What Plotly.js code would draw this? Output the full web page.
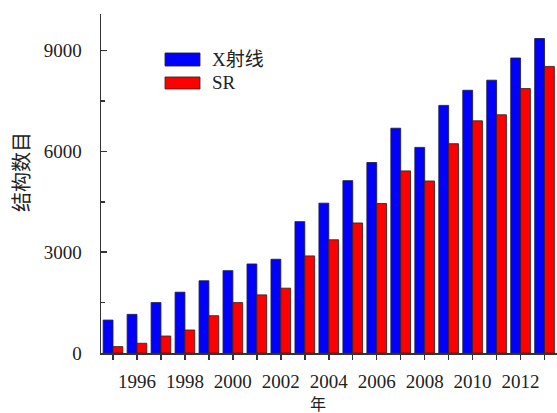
<!DOCTYPE html>
<html>
<head>
<meta charset="utf-8">
<script src="https://cdn.plot.ly/plotly-3.0.1.min.js"></script>
<style>
html,body{margin:0;padding:0;background:#fff;}
#chart{width:557px;height:413px;}
</style>
</head>
<body>
<div id="chart"></div>
<script>
var years = [1995,1996,1997,1998,1999,2000,2001,2002,2003,2004,2005,2006,2007,2008,2009,2010,2011,2012,2013];
var xray = [980,1150,1500,1810,2150,2450,2650,2790,3910,4460,5130,5670,6690,6120,7370,7820,8120,8780,9360];
var sr = [190,290,505,685,1110,1500,1730,1930,2890,3370,3870,4450,5420,5120,6230,6910,7090,7870,8530];
var seriesNames = ['X射线','SR'];
var seriesColors = ['#0000ff','#ff0000'];
var xTickVals = [1996,1998,2000,2002,2004,2006,2008,2010,2012];
var yTickVals = [0,3000,6000,9000];
var yTitle = '结构数目';
var xTitle = '年';

var fontFam = 'Liberation Serif, Noto Sans CJK SC, serif';
var textCol = '#222';

var traces = [
  {type:'bar', x:years, y:xray, name:seriesNames[0], marker:{color:seriesColors[0], line:{color:'rgba(30,30,60,0.85)', width:1}}, showlegend:false},
  {type:'bar', x:years, y:sr, name:seriesNames[1], marker:{color:seriesColors[1], line:{color:'rgba(60,30,30,0.85)', width:1}}, showlegend:false}
];

var layout = {
  width:557, height:413,
  margin:{l:101, r:0, t:14, b:60, pad:0},
  paper_bgcolor:'#fff', plot_bgcolor:'#fff',
  barmode:'group', bargap:0.18, bargroupgap:0,
  font:{family:fontFam, size:18, color:textCol},
  xaxis:{
    range:[1994.5, 2013.52],
    tickmode:'array', tickvals:xTickVals, ticktext:xTickVals.map(String),
    ticks:'outside', ticklen:5, tickwidth:1.5, tickcolor:'#333',
    minor:{tickmode:'array', tickvals:years, ticks:'outside', ticklen:5, tickwidth:1.5, tickcolor:'#333'},
    showline:true, linecolor:'#333', linewidth:1.5,
    showgrid:false, zeroline:false,
    ticklabelstandoff:6,
    tickfont:{family:fontFam, size:19, color:textCol}
  },
  yaxis:{
    range:[0, 10090],
    tickmode:'array', tickvals:yTickVals, ticktext:yTickVals.map(String),
    ticks:'inside', ticklen:6, tickwidth:1.5, tickcolor:'#333',
    minor:{tickmode:'array', tickvals:[1500,4500,7500], ticks:'inside', ticklen:4, tickwidth:1.5, tickcolor:'#333'},
    showline:true, linecolor:'#333', linewidth:1.5,
    showgrid:false, zeroline:false,
    ticklabelstandoff:14,
    tickfont:{family:fontFam, size:19, color:textCol}
  },
  shapes:[
    {type:'rect', xref:'paper', yref:'paper', x0:0.1404, x1:0.2171, y0:0.8466, y1:0.885, fillcolor:seriesColors[0], line:{color:'rgba(30,30,60,0.85)', width:1}},
    {type:'rect', xref:'paper', yref:'paper', x0:0.1404, x1:0.2171, y0:0.7788, y1:0.8142, fillcolor:seriesColors[1], line:{color:'rgba(60,30,30,0.85)', width:1}}
  ],
  annotations:[
    {xref:'paper', yref:'paper', x:0.239, y:0.866, xanchor:'left', yanchor:'middle', text:seriesNames[0], showarrow:false, font:{family:fontFam, size:19, color:textCol}},
    {xref:'paper', yref:'paper', x:0.239, y:0.7965, xanchor:'left', yanchor:'middle', text:seriesNames[1], showarrow:false, font:{family:fontFam, size:19, color:textCol}},
    {xref:'paper', yref:'paper', x:-0.173, y:0.534, xanchor:'center', yanchor:'middle', textangle:-90, text:yTitle, showarrow:false, font:{family:fontFam, size:20, color:textCol}},
    {xref:'paper', yref:'paper', x:0.476, y:-0.152, xanchor:'center', yanchor:'middle', text:xTitle, showarrow:false, font:{family:fontFam, size:16, color:textCol}}
  ]
};

Plotly.newPlot('chart', traces, layout, {displayModeBar:false, staticPlot:true});
</script>
</body>
</html>
